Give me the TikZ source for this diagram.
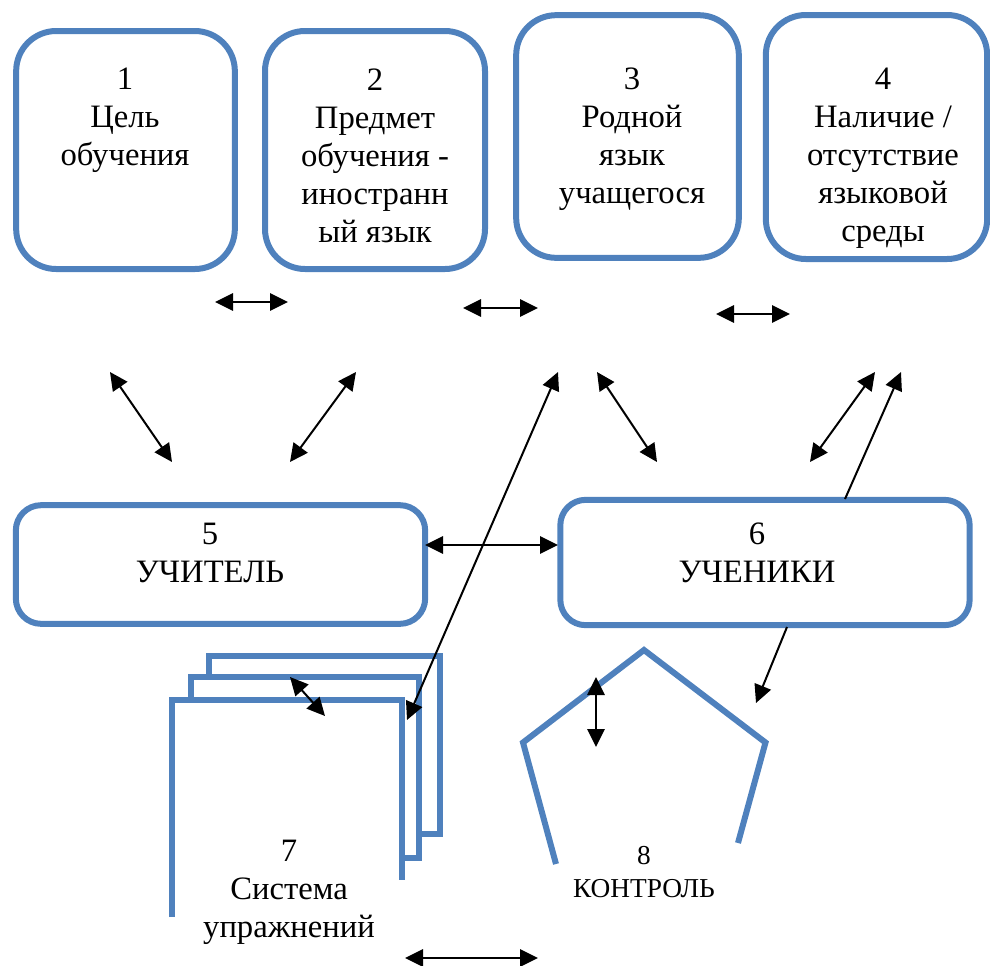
\documentclass[tikz,border=0pt]{standalone}
\usepackage{fontspec}
\setmainfont{Liberation Serif}
\usepackage{xcolor}
\usepackage{tikz}
\usetikzlibrary{arrows.meta}
\definecolor{bluex}{HTML}{4F81BD}
\tikzset{
  card/.style={draw=bluex,line width=4.5pt,rounded corners=30pt,inner sep=0pt},
  wide/.style={card,rounded corners=19pt,minimum width=307pt},
  sheet/.style={draw=bluex,line width=4.5pt,line join=miter},
  lbl/.style={align=center,inner sep=0pt,font=\fontsize{24.5}{28.5}\selectfont},
  dar/.style={{Triangle[length=13.5pt,width=13pt]}-{Triangle[length=13.5pt,width=13pt]},line width=1.5pt},
  sar/.style={-{Triangle[length=13.5pt,width=13pt]},line width=1.5pt}
}
\begin{document}
\begin{tikzpicture}[x=0.75pt,y=-0.75pt]
\useasboundingbox (0,0) rectangle (990,965);
% top row
\node[card,minimum width=164pt,minimum height=178.5pt] (b1) at (125.5,150) {};
\node[card,minimum width=165pt,minimum height=178.5pt] (b2) at (375,150) {};
\node[card,minimum width=167pt,minimum height=182pt] (b3) at (627.5,136.5) {};
\node[card,minimum width=166pt,minimum height=183pt] (b4) at (876.5,137) {};
\node[lbl] (t1) at (125,120) {1\\Цель\\обучения};
\node[lbl] (t2) at (375,156) {2\\Предмет\\обучения -\\иностранн\\ый язык};
\node[lbl] (t3) at (632,139) {3\\Родной\\язык\\учащегося};
\node[lbl] (t4) at (883,158) {4\\Наличие /\\отсутствие\\языковой\\среды};
% middle row
\node[wide,minimum height=89pt] (b5) at (220.5,564.5) {};
\node[wide,minimum height=94pt] (b6) at (765,562.5) {};
\node[lbl] (t5) at (210,553) {5\\УЧИТЕЛЬ};
\node[lbl] (t6) at (757,553) {6\\УЧЕНИКИ};
% exercises (stack of sheets)
\draw[sheet] (209,677) -- (209,655.5) -- (440,655.5) -- (440,834) -- (421,834);
\draw[sheet] (191,700) -- (191,677) -- (419,677) -- (419,858) -- (402,858);
\draw[sheet] (171.5,917) -- (171.5,700) -- (402,700) -- (402,880);
\node[lbl] (t7) at (289,892) {7\\Система\\упражнений};
% control (open pentagon)
\draw[sheet] (556,864) -- (523,742.5) -- (644,650) -- (765.5,742.5) -- (738,843);
\node[lbl,font=\fontsize{20.5}{24.5}\selectfont] (t8) at (644,872) {8\\КОНТРОЛЬ};
% arrow ends
\coordinate (p1) at (215,302); \coordinate (q1) at (288,302);
\coordinate (p2) at (463,308); \coordinate (q2) at (538,308);
\coordinate (p3) at (716,314); \coordinate (q3) at (790,314);
\coordinate (p4) at (110,372); \coordinate (q4) at (172,462);
\coordinate (p5) at (356,372); \coordinate (q5) at (290,462);
\coordinate (p6) at (407,720); \coordinate (q6) at (558,372);
\coordinate (p7) at (597,372); \coordinate (q7) at (657,462);
\coordinate (p8) at (810,462); \coordinate (q8) at (875,372);
\coordinate (p9) at (425,545); \coordinate (q9) at (558,545);
\coordinate (p10) at (290,677); \coordinate (q10) at (325,716);
\coordinate (p11) at (596,677); \coordinate (q11) at (596,747);
\coordinate (p12) at (405,958); \coordinate (q12) at (538,958);
\coordinate (s1) at (845,499); \coordinate (e1) at (901,372);
\coordinate (s2) at (787,627); \coordinate (e2) at (756,703);
\foreach \i in {1,...,12}{\draw[dar] (p\i) -- (q\i);}
\draw[sar] (s1) -- (e1);
\draw[sar] (s2) -- (e2);
\end{tikzpicture}
\end{document}
